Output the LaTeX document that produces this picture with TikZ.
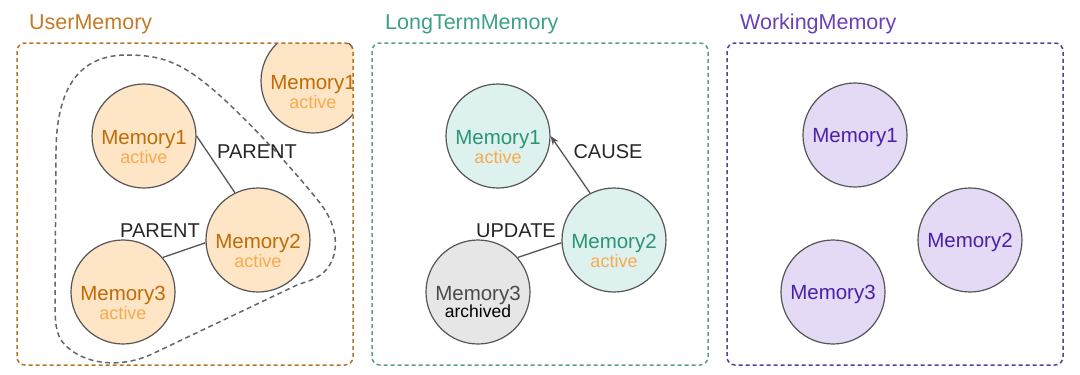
\documentclass[tikz,border=0pt]{standalone}
\usepackage{fontspec}
\setmainfont{Liberation Sans}
\usetikzlibrary{arrows.meta}
\definecolor{ufill}{HTML}{FDE5C5}
\definecolor{utext}{HTML}{BF6B06}
\definecolor{actc}{HTML}{F8AA4E}
\definecolor{tfill}{HTML}{DDF2EE}
\definecolor{ttext}{HTML}{2A9478}
\definecolor{wfill}{HTML}{E4DAF5}
\definecolor{wtext}{HTML}{4B20A8}
\definecolor{gfill}{HTML}{E6E6E6}
\definecolor{gtext}{HTML}{4A4A4A}
\definecolor{circ}{HTML}{555555}
\definecolor{ubox}{HTML}{B5762A}
\definecolor{tbox}{HTML}{5A9E8E}
\definecolor{wbox}{HTML}{5B3E9E}
\definecolor{utitle}{HTML}{C27A26}
\definecolor{ttitle}{HTML}{3DA08A}
\definecolor{wtitle}{HTML}{6A40B8}
\definecolor{blobc}{HTML}{666666}
\definecolor{linec}{HTML}{555555}
\begin{document}
\begin{tikzpicture}[x=1pt,y=-1pt,
  mem/.style={circle,draw=circ,line width=1.2pt,minimum size=104pt,inner sep=0pt},
  umem/.style={mem,fill=ufill},
  tmem/.style={mem,fill=tfill},
  wmem/.style={mem,fill=wfill},
  gmem/.style={mem,fill=gfill},
  nametxt/.style={anchor=base,inner sep=0pt,font=\fontsize{20.5}{24}\selectfont},
  stattxt/.style={anchor=base,inner sep=0pt,font=\fontsize{18}{22}\selectfont,text=actc},
  edgelbl/.style={anchor=base,inner sep=0pt,font=\fontsize{20}{24}\selectfont,text=black!85},
  titletxt/.style={anchor=base west,inner sep=0pt,font=\fontsize{21.5}{26}\selectfont},
  panelbox/.style={dash pattern=on 4pt off 3pt,line width=1.5pt,rounded corners=8pt},
  link/.style={draw=linec,line width=1.3pt}]
\path[use as bounding box] (0,0) rectangle (1080,375);

% ---------- UserMemory ----------
\node[titletxt,text=utitle] (ut) at (29,29) {UserMemory};
\draw[blobc,dash pattern=on 5pt off 3.5pt,line width=1.5pt]
  (127,55) .. controls (160,55) and (180,62) .. (210,87)
  .. controls (240,112) and (290,165) .. (320,203)
  .. controls (340,228) and (340,258) .. (323,273)
  .. controls (315,280) and (305,282) .. (297,285)
  -- (150,355)
  .. controls (120,368) and (85,365) .. (65,345)
  .. controls (55,335) and (55,320) .. (55,300)
  -- (56,150)
  .. controls (57,80) and (85,55) .. (127,55) -- cycle;
\begin{scope}
  \clip (17,43) rectangle (353,365);
  \node[umem] (ux) at (313,81) {};
  \node[nametxt,text=utext] (uxn) at (313,89) {Memory1};
  \node[stattxt] (uxs) at (313,108) {active};
\end{scope}
\draw[ubox,panelbox] (17,43) rectangle (353,365);
\node[umem] (u1) at (144,136) {};
\node[nametxt,text=utext] (u1n) at (144,144) {Memory1};
\node[stattxt] (u1s) at (144,163) {active};
\node[umem] (u2) at (258,240) {};
\node[nametxt,text=utext] (u2n) at (258,248) {Memory2};
\node[stattxt] (u2s) at (258,267) {active};
\node[umem] (u3) at (123,292) {};
\node[nametxt,text=utext] (u3n) at (123,300) {Memory3};
\node[stattxt] (u3s) at (123,319) {active};
\draw[link] (u1.east) -- (u2.116);
\draw[link] (u2.183) -- (u3.41);
\node[edgelbl] (p1) at (257,158) {PARENT};
\node[edgelbl] (p2) at (160,237) {PARENT};

% ---------- LongTermMemory ----------
\node[titletxt,text=ttitle] (tt) at (385,29) {LongTermMemory};
\draw[tbox,panelbox] (372,43) rectangle (708,365);
\node[tmem] (t1) at (498,136) {};
\node[nametxt,text=ttext] (t1n) at (498,144) {Memory1};
\node[stattxt] (t1s) at (498,163) {active};
\node[tmem] (t2) at (614,240) {};
\node[nametxt,text=ttext] (t2n) at (614,248) {Memory2};
\node[stattxt] (t2s) at (614,267) {active};
\node[gmem] (t3) at (478,292) {};
\node[nametxt,text=gtext] (t3n) at (478,300) {Memory3};
\node[anchor=base,inner sep=0pt,font=\fontsize{17.5}{21}\selectfont,text=black] (t3s) at (478,317) {archived};
\draw[link,-{Stealth[length=9pt,width=7pt]}] (t2.117) -- (t1.east);
\draw[link] (t2.183) -- (t3.41);
\node[edgelbl] (c1) at (608,158) {CAUSE};
\node[edgelbl] (c2) at (516,237) {UPDATE};

% ---------- WorkingMemory ----------
\node[titletxt,text=wtitle] (wt) at (740,29) {WorkingMemory};
\draw[wbox,panelbox] (727,43) rectangle (1063,365);
\node[wmem] (w1) at (855,135) {};
\node[nametxt,text=wtext] (w1n) at (855,142) {Memory1};
\node[wmem] (w2) at (970,240) {};
\node[nametxt,text=wtext] (w2n) at (970,247) {Memory2};
\node[wmem] (w3) at (833,292) {};
\node[nametxt,text=wtext] (w3n) at (833,299) {Memory3};
\end{tikzpicture}
\end{document}
